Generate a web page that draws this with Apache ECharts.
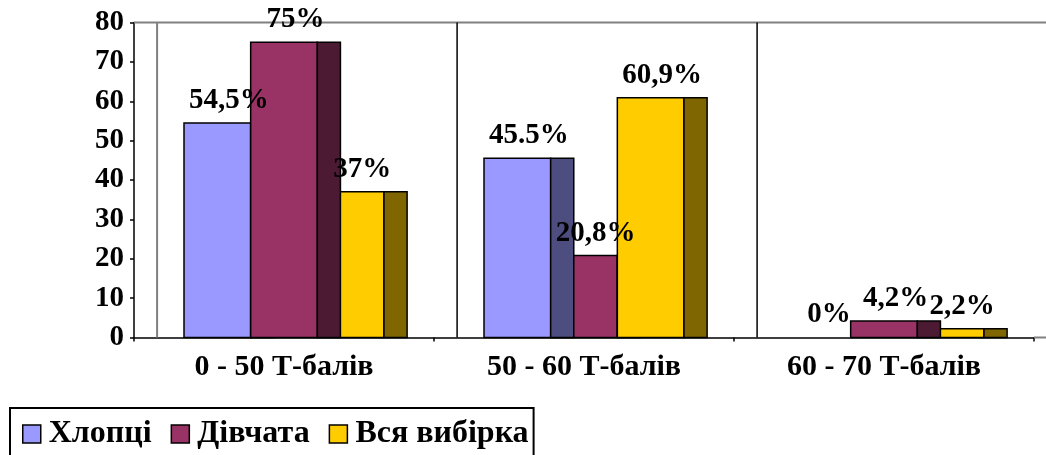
<!DOCTYPE html>
<html>
<head>
<meta charset="utf-8">
<script src="https://cdn.jsdelivr.net/npm/echarts@6/dist/echarts.min.js"></script>
<style>
html,body{margin:0;padding:0;background:#fff;}
#chart{width:1046px;height:455px;}
</style>
</head>
<body>
<div id="chart"></div>
<script>
// ---- data ----
const categories = ['0 - 50 Т-балів', '50 - 60 Т-балів', '60 - 70 Т-балів'];
const seriesNames = ['Хлопці', 'Дівчата', 'Вся вибірка'];
const boys = [54.5, 45.5, 0];
const girls = [75, 20.8, 4.2];
const allSample = [37, 60.9, 2.2];
const boysLabels = ['54,5%', '45.5%', '0%'];
const girlsLabels = ['75%', '20,8%', '4,2%'];
const allLabels = ['37%', '60,9%', '2,2%'];
const yMin = 0, yMax = 80, yStep = 10;

// ---- styling ----
const FONT = '"Liberation Serif", "Times New Roman", serif';
const frontColors = ['#9999FF', '#993366', '#FFCC00'];
const sideColors = ['#4D4D80', '#4D1A33', '#806600'];
const valuesBySeries = [boys, girls, allSample];
const labelsBySeries = [boysLabels, girlsLabels, allLabels];

const chart = echarts.init(document.getElementById('chart'), null, {renderer: 'canvas'});

function rankIn(ci, s) {
  let r = 0;
  for (let k = 0; k < valuesBySeries.length; k++) {
    if (k === s) continue;
    const a = valuesBySeries[k][ci], b = valuesBySeries[s][ci];
    if (a < b || (a === b && k < s)) r++;
  }
  return r;
}

function makeRender(s) {
  return function (params, api) {
    const ci = api.value(0);
    const v = api.value(1);
    const base = api.coord([ci, 0]);
    const topP = api.coord([ci, v]);
    const band = api.size([1, 0])[0];
    const fw = band * 2 / 9;
    const depth = band * 0.077;
    const x0 = base[0] - band / 2 + band / 6 + fw * s;
    const h = base[1] - topP[1];
    const z = 10 + rankIn(ci, s) * 2;
    const children = [];
    if (h > 0.5) {
      children.push({
        type: 'rect', z2: z,
        shape: {x: x0, y: topP[1], width: fw, height: h},
        style: {fill: frontColors[s], stroke: '#000', lineWidth: 1.5}
      });
      children.push({
        type: 'rect', z2: z + 1,
        shape: {x: x0 + fw, y: topP[1], width: depth, height: h},
        style: {fill: sideColors[s], stroke: '#000', lineWidth: 1.5}
      });
    }
    children.push({
      type: 'text', z2: 100,
      style: {
        text: labelsBySeries[s][ci],
        x: x0 + (fw + depth) / 2,
        y: topP[1] - 8,
        align: 'center', verticalAlign: 'bottom',
        font: 'bold 29px ' + FONT, fill: '#000'
      }
    });
    return {type: 'group', children: children};
  };
}

function wallRender(params, api) {
  const cs = params.coordSys;
  const band = api.size([1, 0])[0];
  const depth = band * 0.077;
  const x = cs.x, y = cs.y, w = cs.width, h = cs.height;
  const kids = [];
  kids.push({type: 'line', z2: 1, shape: {x1: x, y1: y, x2: x + w + depth + 20, y2: y}, style: {stroke: '#808080', lineWidth: 2}});
  kids.push({type: 'line', z2: 1, shape: {x1: x + depth, y1: y, x2: x + depth, y2: y + h}, style: {stroke: '#808080', lineWidth: 2}});
  kids.push({type: 'line', z2: 1, shape: {x1: x + w, y1: y + h, x2: x + w + depth + 20, y2: y + h}, style: {stroke: '#808080', lineWidth: 2}});
  for (let k = 1; k <= categories.length; k++) {
    const xx = x + band * k + depth;
    kids.push({type: 'line', z2: 1, shape: {x1: xx, y1: y, x2: xx, y2: y + h}, style: {stroke: '#000', lineWidth: 1.5}});
  }
  return {type: 'group', children: kids};
}

const series = seriesNames.map((name, s) => ({
  type: 'custom',
  name: name,
  renderItem: makeRender(s),
  clip: false,
  itemStyle: {color: frontColors[s], borderColor: '#000', borderWidth: 1.5},
  data: valuesBySeries[s].map((v, i) => [i, v]),
  encode: {x: 0, y: 1},
  animation: false
}));
series.unshift({
  type: 'custom',
  name: 'wall',
  renderItem: wallRender,
  clip: false,
  silent: true,
  data: [[0, 0]],
  encode: {x: 0, y: 1},
  animation: false
});

chart.setOption({
  animation: false,
  backgroundColor: '#fff',
  grid: {left: 134, right: 12, top: 22.5, bottom: 117.5, containLabel: false},
  xAxis: {
    type: 'category',
    data: categories,
    boundaryGap: true,
    axisLine: {show: true, lineStyle: {color: '#000', width: 1.5}},
    axisTick: {show: true, length: 4, interval: 0, lineStyle: {color: '#000', width: 1.5}},
    axisLabel: {interval: 0, margin: 15, color: '#000', fontFamily: FONT, fontWeight: 'bold', fontSize: 30},
    splitLine: {show: false}
  },
  yAxis: {
    type: 'value',
    min: yMin, max: yMax, interval: yStep,
    axisLine: {show: true, lineStyle: {color: '#000', width: 1.5}},
    axisTick: {show: true, length: 4, lineStyle: {color: '#000', width: 1.5}},
    axisLabel: {margin: 10, color: '#000', fontFamily: FONT, fontWeight: 'bold', fontSize: 29},
    splitLine: {show: false}
  },
  legend: {
    data: seriesNames.map((n, i) => ({name: n, itemStyle: {color: frontColors[i], borderColor: '#000', borderWidth: 1.5}})),
    left: 10, top: 408,
    orient: 'horizontal',
    icon: 'rect',
    itemWidth: 18, itemHeight: 18, itemGap: 19,
    padding: [10, 5, 14, 12],
    borderColor: '#000', borderWidth: 2,
    textStyle: {color: '#000', fontFamily: FONT, fontWeight: 'bold', fontSize: 32, padding: [0, 0, 0, 3]}
  },
  series: series
});
</script>
</body>
</html>
